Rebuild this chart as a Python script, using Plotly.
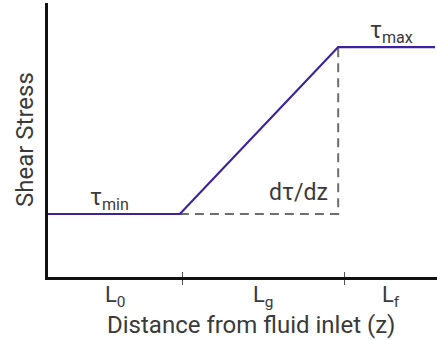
import plotly.graph_objects as go

# Data (abstract units along z and shear stress)
z_profile = [0, 3.39, 7.46, 9.95]
tau_profile = [2.30, 2.30, 8.39, 8.39]
z_ticks = [3.47, 7.63]
region_labels = ["L<sub>0</sub>", "L<sub>g</sub>", "L<sub>f</sub>"]
z_min, z_max = 0, 10
tau_lo, tau_hi = 0, 10

# slope guide (dashed)
guide_z = [z_profile[1], z_profile[2], z_profile[2]]
guide_tau = [tau_profile[1], tau_profile[1], tau_profile[2]]

FONT = "Roboto"
TXT = "#3a3a3a"

fig = go.Figure()
fig.add_trace(go.Scatter(x=guide_z, y=guide_tau, mode="lines",
                         line=dict(color="#6e6e6e", width=2, dash="9px,6px"),
                         hoverinfo="skip", showlegend=False))
fig.add_trace(go.Scatter(x=z_profile, y=tau_profile, mode="lines",
                         line=dict(color="#3d22a0", width=2.2),
                         hoverinfo="skip", showlegend=False))
# invisible trace to activate second x axis (inside ticks)
fig.add_trace(go.Scatter(x=[z_min], y=[tau_lo], xaxis="x2", mode="markers",
                         marker=dict(opacity=0), hoverinfo="skip", showlegend=False))

bounds = [z_min] + z_ticks + [z_max]
annotations = []
for i, lab in enumerate(region_labels):
    annotations.append(dict(x=(bounds[i] + bounds[i + 1]) / 2, y=-0.01, xref="x", yref="paper",
                            text=lab, showarrow=False, yanchor="top",
                            font=dict(family=FONT, size=22, color=TXT)))
annotations += [
    dict(x=1.59, y=tau_profile[0], text="τ<sub>min</sub>", showarrow=False,
         yanchor="bottom", yshift=-2, font=dict(family=FONT, size=23, color=TXT)),
    dict(x=8.82, y=tau_profile[-1], text="τ<sub>max</sub>", showarrow=False,
         yanchor="bottom", yshift=-2, font=dict(family=FONT, size=23, color=TXT)),
    dict(x=6.43, y=3.07, text="dτ/dz", showarrow=False,
         font=dict(family=FONT, size=23, color=TXT)),
    dict(x=(25 - 48) / 389, y=0.5, xref="paper", yref="paper", text="Shear Stress",
         showarrow=False, textangle=-90, xanchor="center",
         font=dict(family=FONT, size=24, color=TXT)),
    dict(x=(251 - 48) / 389, y=-48 / 274, xref="paper", yref="paper",
         text="Distance from fluid inlet (z)", showarrow=False,
         yanchor="middle", font=dict(family=FONT, size=24, color=TXT)),
]

fig.update_layout(
    width=437, height=340,
    margin=dict(l=48, r=0, t=3, b=63),
    paper_bgcolor="white", plot_bgcolor="white",
    showlegend=False,
    xaxis=dict(range=[z_min, z_max], showgrid=False, zeroline=False,
               showline=True, linecolor="#111111", linewidth=3,
               tickvals=z_ticks, showticklabels=False, ticks="outside",
               ticklen=5, tickwidth=1.2, tickcolor="#555555", fixedrange=True),
    xaxis2=dict(range=[z_min, z_max], overlaying="x", side="bottom", anchor="y",
                showgrid=False, zeroline=False, showline=False,
                tickvals=z_ticks, showticklabels=False, ticks="inside",
                ticklen=5, tickwidth=1.2, tickcolor="#555555"),
    yaxis=dict(range=[tau_lo, tau_hi], showgrid=False, zeroline=False,
               showline=True, linecolor="#111111", linewidth=3,
               showticklabels=False, ticks="", fixedrange=True),
    annotations=annotations,
)

fig.write_html("out.html")
